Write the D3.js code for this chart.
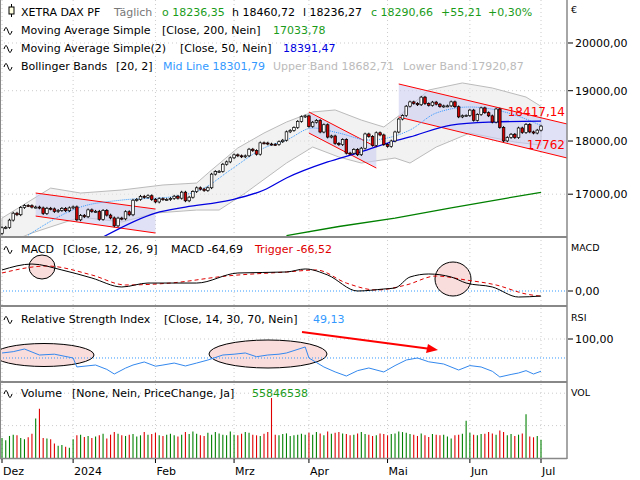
<!DOCTYPE html>
<html><head><meta charset="utf-8">
<script src="https://cdn.jsdelivr.net/npm/d3@7"></script>
<style>body{margin:0;background:#fff}svg{font-family:"DejaVu Sans",Verdana,sans-serif;font-size:11px}</style>
</head><body><svg id="c" width="640" height="480"></svg>
<script>
'use strict'
// daily closes, Dec 2023 .. Jun 2024 (trading day index 0..144)
const closes = [
  16397,16405,16533,16656,16629,16759,16794,16791,16766,16766,16751,16650,16744,16733,16687,16706,16742,16701,16752,
  16769,16538,16617,16594,16716,16688,16690,16547,16705,16622,16572,16432,16568,16555,16683,16628,16890,16906,16961,16942,16972,16904,
  16859,16918,16904,16904,16922,16963,16927,17037,16880,16945,17047,17117,17093,17068,17118,17370,17419,17423,17556,17601,17678,
  17735,17716,17698,17716,17842,17815,17746,17965,17961,17942,17936,17933,17987,18015,18179,18206,18261,18384,18477,18492,
  18283,18367,18403,18175,18318,18076,18097,17954,17930,18027,17767,17766,17837,17737,17861,18137,18089,17917,18161,18118,17932,
  17897,18001,18175,18430,18498,18686,18773,18742,18716,18869,18738,18704,18768,18727,18680,18692,18693,18774,18677,18473,18496,18498,
  18608,18405,18519,18652,18557,18494,18370,18630,18265,18002,18068,18131,18067,18254,18164,18325,18177,18155,18211,18290]
const firstOpen = 16300
// volume in millions
const volumes = [
  62,55,68,72,70,62,58,64,75,122,152,62,60,58,45,38,40,35,32,
  58,70,72,65,68,62,66,70,75,60,72,80,75,70,68,72,74,66,70,80,72,74,
  78,70,68,72,75,70,66,72,80,74,82,75,70,68,78,72,80,76,72,70,82,
  72,70,75,80,78,72,70,68,75,80,185,72,70,74,76,68,70,72,75,72,
  78,72,80,76,70,82,75,78,80,76,74,70,72,76,80,74,72,68,70,76,74,
  70,74,76,82,80,78,74,72,68,76,70,65,74,72,70,72,66,60,70,72,75,115,
  78,72,70,74,75,80,76,72,85,80,70,74,68,72,76,135,66,64,68,56]
// [day index, value]
const sma200 = [[76,16260],[90,16420],[105,16570],[120,16750],[135,16930],[144,17034]]
const sma50 = [[27,16235],[41,16659],[49,16767],[61,16893],[70,17077],[76,17298],[87,17599],[95,17770],[103,17961],[109,18078],[120,18312],[131,18371],[144,18391]]
const bbMid = [[7,16269],[21,16767],[32,16893],[45,16949],[54,17112],[61,17448],[70,17866],[76,18019],[83,18254],[90,18155],[98,18019],[109,18214],[116,18550],[125,18670],[137,18511],[144,18302]]
const bbUpper = [[0,16569],[13,17112],[21,17021],[32,17077],[43,17169],[52,17205],[56,17448],[63,17866],[70,18155],[76,18371],[83,18570],[89,18611],[96,18410],[102,18273],[107,18550],[114,19014],[123,19159],[131,19055],[140,18871],[144,18683]]
const bbLower = [[0,16096],[8,16305],[21,16587],[32,16499],[41,16659],[52,16713],[58,16713],[65,17021],[76,17579],[83,17884],[90,17693],[96,17579],[105,17674],[109,17579],[116,17884],[125,18155],[137,17981],[144,17921]]
// channels: [i0, top0, bottom0, i1, top1, bottom1]
const channels = [[9,17021,16605,41,16731,16305],[82,18570,18155,100,17884,17485],[106,19138,18470,151,18332,17674]]
const macd = [[0,272],[8,349],[16,272],[24,168],[32,52],[39,103],[52,103],[63,233],[76,246],[81,285],[87,207],[95,0],[102,26],[105,39],[109,181],[114,220],[120,181],[124,103],[131,52],[138,-78],[144,-65]]
const trigger = [[0,233],[12,323],[24,207],[33,78],[45,103],[60,194],[76,246],[84,272],[92,103],[100,13],[108,78],[116,194],[124,142],[132,78],[140,-39],[144,-67]]
const rsi = [[0,77.9],[3,80],[6,84.2],[10,74.7],[14,76],[19,70],[20,55.8],[25,58.9],[28,52],[30,44.7],[33,54],[35,58.9],[38,63.7],[41,57],[43,58.9],[46,62],[49,57.4],[52,62],[55,66.8],[59,74.7],[62,76],[65,77.9],[68,72],[71,74.7],[74,76],[76,77.9],[81,87.4],[82,70],[86,55.8],[89,48],[92,41.5],[95,50],[98,54.2],[102,47.9],[105,58],[108,66.8],[111,70],[114,64],[118,60.5],[122,51],[125,58],[128,55.8],[131,49],[133,40],[136,44],[138,46.3],[140,50],[142,44.7],[144,49.1]]
const monthIdx = [0,19,41,62,82,103,125,144]
const monthLbl = ['Dez','2024','Feb','Mrz','Apr','Mai','Jun','Jul']
const priceTicks = [17000,18000,19000,20000]

const svg = d3.select('#c')
const W = 567
const x = d3.scaleLinear().domain([0,144]).range([2,541])
const y = d3.scaleLog().domain([16253,20946]).range([236,0])
const yM = d3.scaleLinear().domain([0,100]).range([291,283.27])
const yR = d3.scaleLinear().domain([0,100]).range([402.3,339])
const yV = d3.scaleLinear().domain([0,250]).range([458,377])

svg.append('defs').selectAll('clipPath').data([['cMain',0,236],['cMacd',238,305],['cRsi',307,381],['cVol',383,458]])
  .join('clipPath').attr('id',d=>d[0]).append('rect')
  .attr('x',0).attr('y',d=>d[1]).attr('width',W).attr('height',d=>d[2]-d[1])

const line = (ys) => d3.line().x(d=>x(d[0])).y(d=>ys(d[1]))

// grids
const grid = svg.append('g').attr('stroke','#ccc').attr('stroke-dasharray','1,3')
grid.selectAll('line.h').data(priceTicks).join('line').attr('x1',0).attr('x2',W).attr('y1',d=>y(d)).attr('y2',d=>y(d))
grid.selectAll('line.v').data(monthIdx).join('line').attr('x1',d=>x(d)).attr('x2',d=>x(d)).attr('y1',0).attr('y2',458)
grid.selectAll('line.vol').data([100,200]).join('line').attr('x1',0).attr('x2',W).attr('y1',d=>yV(d)).attr('y2',d=>yV(d))
grid.append('line').attr('x1',0).attr('x2',W).attr('y1',yR(100)).attr('y2',yR(100))

// main panel
const gm = svg.append('g').attr('clip-path','url(#cMain)')
gm.append('path').attr('fill','#e8e8e8').attr('fill-opacity',0.55).attr('stroke','#bbb')
  .attr('d', line(y)(bbUpper) + line(y)(bbLower.slice().reverse()).replace('M','L') + 'Z')
gm.selectAll('path.ch').data(channels).join('path').attr('fill','#ccccf0').attr('fill-opacity',0.6)
  .attr('d', c => `M${x(c[0])},${y(c[1])}L${x(c[3])},${y(c[4])}L${x(c[3])},${y(c[5])}L${x(c[0])},${y(c[2])}Z`)
gm.selectAll('g.chl').data(channels).join('g').each(function(c){
  const g = d3.select(this)
  g.append('line').attr('x1',x(c[0])).attr('y1',y(c[1])).attr('x2',x(c[3])).attr('y2',y(c[4])).attr('stroke','red')
  g.append('line').attr('x1',x(c[0])).attr('y1',y(c[2])).attr('x2',x(c[3])).attr('y2',y(c[5])).attr('stroke','red')
})
gm.append('path').datum(sma200).attr('fill','none').attr('stroke','green').attr('stroke-width',1.3).attr('d',line(y))
gm.append('path').datum(bbMid).attr('fill','none').attr('stroke','#3399ff').attr('stroke-dasharray','1,1').attr('d',line(y).curve(d3.curveMonotoneX))
gm.append('path').datum(sma50).attr('fill','none').attr('stroke','#0000e0').attr('stroke-width',1.3).attr('d',line(y).curve(d3.curveMonotoneX))

const candles = closes.map((c,i) => {
  const o = i ? closes[i-1] : firstOpen
  return {i, o, c, h: Math.max(o,c)+25, l: Math.min(o,c)-25}
})
const cg = gm.selectAll('g.cd').data(candles).join('g')
cg.append('line').attr('x1',d=>x(d.i)).attr('x2',d=>x(d.i)).attr('y1',d=>y(d.h)).attr('y2',d=>y(d.l)).attr('stroke','#000')
cg.append('rect').attr('x',d=>x(d.i)-1.3).attr('width',2.6)
  .attr('y',d=>y(Math.max(d.o,d.c))).attr('height',d=>Math.max(1,y(Math.min(d.o,d.c))-y(Math.max(d.o,d.c))))
  .attr('fill',d=>d.c>=d.o?'#fff':'#d00000').attr('stroke','#000').attr('stroke-width',0.7)

svg.append('text').attr('x',565).attr('y',116).attr('text-anchor','end').attr('fill','red').attr('font-size',12).text('18417,14')
svg.append('text').attr('x',565).attr('y',149).attr('text-anchor','end').attr('fill','red').attr('font-size',12).text('17762')

// MACD
const gmc = svg.append('g').attr('clip-path','url(#cMacd)')
gmc.append('line').attr('x1',0).attr('x2',W).attr('y1',yM(0)).attr('y2',yM(0)).attr('stroke','#3399ff').attr('stroke-dasharray','1,2')
gmc.selectAll('ellipse').data([[42,267,13,12],[453,279,18,17]]).join('ellipse')
  .attr('cx',d=>d[0]).attr('cy',d=>d[1]).attr('rx',d=>d[2]).attr('ry',d=>d[3]).attr('fill','#f9dcdc').attr('stroke','#000')
gmc.append('path').datum(trigger).attr('fill','none').attr('stroke','#e00000').attr('stroke-dasharray','4,3').attr('d',line(yM).curve(d3.curveMonotoneX))
gmc.append('path').datum(macd).attr('fill','none').attr('stroke','#000').attr('d',line(yM).curve(d3.curveMonotoneX))

// RSI
const gr = svg.append('g').attr('clip-path','url(#cRsi)')
gr.selectAll('ellipse').data([[44,355,50,11.5],[268,354,59,14]]).join('ellipse')
  .attr('cx',d=>d[0]).attr('cy',d=>d[1]).attr('rx',d=>d[2]).attr('ry',d=>d[3]).attr('fill','#f9dcdc').attr('stroke','#000')
gr.append('line').attr('x1',0).attr('x2',W).attr('y1',yR(70)).attr('y2',yR(70)).attr('stroke','#3399ff').attr('stroke-dasharray','1,2')
gr.append('path').datum(rsi).attr('fill','none').attr('stroke','#3388ee').attr('d',line(yR))
gr.append('line').attr('x1',302).attr('y1',332).attr('x2',431).attr('y2',349).attr('stroke','red').attr('stroke-width',2.2)
gr.append('path').attr('d','M438,350 L428,344 L426,353 Z').attr('fill','red')

// volume
const gv = svg.append('g').attr('clip-path','url(#cVol)')
gv.selectAll('line').data(volumes).join('line')
  .attr('x1',(d,i)=>x(i)).attr('x2',(d,i)=>x(i)).attr('y1',yV(0)).attr('y2',d=>yV(d))
  .attr('stroke',(d,i)=>candles[i].c>=candles[i].o?'#008000':'#e00000').attr('stroke-width',1.1)

// frames
const fr = svg.append('g').attr('stroke','#888').attr('fill','none')
fr.append('line').attr('x1',W).attr('x2',W).attr('y1',0).attr('y2',459).attr('stroke-width',1.5)
fr.selectAll('line.s').data([237,306,382]).join('line').attr('x1',0).attr('x2',W).attr('y1',d=>d).attr('y2',d=>d).attr('stroke-width',2)
fr.append('line').attr('x1',0).attr('x2',W).attr('y1',458.5).attr('y2',458.5).attr('stroke-width',1.5)
fr.append('line').attr('x1',0.5).attr('x2',0.5).attr('y1',0).attr('y2',459)

// right axis labels
const ra = svg.append('g')
ra.selectAll('text.p').data(priceTicks).join('text').attr('x',575).attr('y',d=>y(d)+4).text(d=>d+',00')
ra.selectAll('line.p').data(priceTicks).join('line').attr('x1',568).attr('x2',573).attr('y1',d=>y(d)).attr('y2',d=>y(d)).attr('stroke','#000')
ra.append('text').attr('x',575).attr('y',yM(0)+4).text('0,00')
ra.append('line').attr('x1',568).attr('x2',573).attr('y1',yM(0)).attr('y2',yM(0)).attr('stroke','#000')
ra.append('text').attr('x',575).attr('y',yR(100)+4).text('100,00')
ra.append('line').attr('x1',568).attr('x2',573).attr('y1',yR(100)).attr('y2',yR(100)).attr('stroke','#000')
ra.selectAll('text.n').data([['€',13],['MACD',251],['RSI',321],['VOL',396]]).join('text')
  .attr('x',571).attr('y',d=>d[1]).attr('font-size',9.5).text(d=>d[0])

// month axis
const xa = svg.append('g')
xa.selectAll('line').data(monthIdx).join('line').attr('x1',d=>x(d)).attr('x2',d=>x(d)).attr('y1',459).attr('y2',463).attr('stroke','#000')
xa.selectAll('text').data(monthIdx).join('text').attr('x',d=>x(d)+1).attr('y',475).text((d,i)=>monthLbl[i])

// legends
const legend = (yy, parts, icon) => {
  if (icon) svg.append('path').attr('d',`M4,${yy-3} q2,-7 4,0 t4,0`).attr('fill','none').attr('stroke','#000')
  parts.forEach(p => svg.append('text').attr('x',p[0]).attr('y',yy).attr('fill',p[2]||'#000').text(p[1]))
}
svg.append('line').attr('x1',11.5).attr('x2',11.5).attr('y1',4).attr('y2',17).attr('stroke','#000')
svg.append('rect').attr('x',9).attr('y',7).attr('width',5).attr('height',7).attr('fill','#ffffe0').attr('stroke','#000')
legend(16, [[21,'XETRA DAX PF'],[114,'Täglich','#777'],[162,'o 18236,35','#1a9c1a'],[232,'h 18460,72'],[303,'l 18236,27'],[371,'c 18290,66','#1a9c1a'],[441,'+55,21','#1a9c1a'],[488,'+0,30%','#1a9c1a']])
legend(34, [[21,'Moving Average Simple'],[162,'[Close, 200, Nein]'],[273,'17033,78','#1a9c1a']], true)
legend(52, [[21,'Moving Average Simple(2)'],[180,'[Close, 50, Nein]'],[283,'18391,47','#0000e0']], true)
legend(70, [[21,'Bollinger Bands'],[116,'[20, 2]'],[163,'Mid Line 18301,79','#3399ff'],[273,'Upper Band 18682,71','#bbb'],[403,'Lower Band 17920,87','#bbb']], true)
legend(253, [[21,'MACD'],[63,'[Close, 12, 26, 9]'],[171,'MACD -64,69'],[255,'Trigger -66,52','#e00000']], true)
legend(323, [[21,'Relative Strength Index'],[164,'[Close, 14, 30, 70, Nein]'],[313,'49,13','#3399ff']], true)
legend(397, [[21,'Volume'],[72,'[None, Nein, PriceChange, Ja]'],[252,'55846538','#1a9c1a']], true)
</script></body></html>
